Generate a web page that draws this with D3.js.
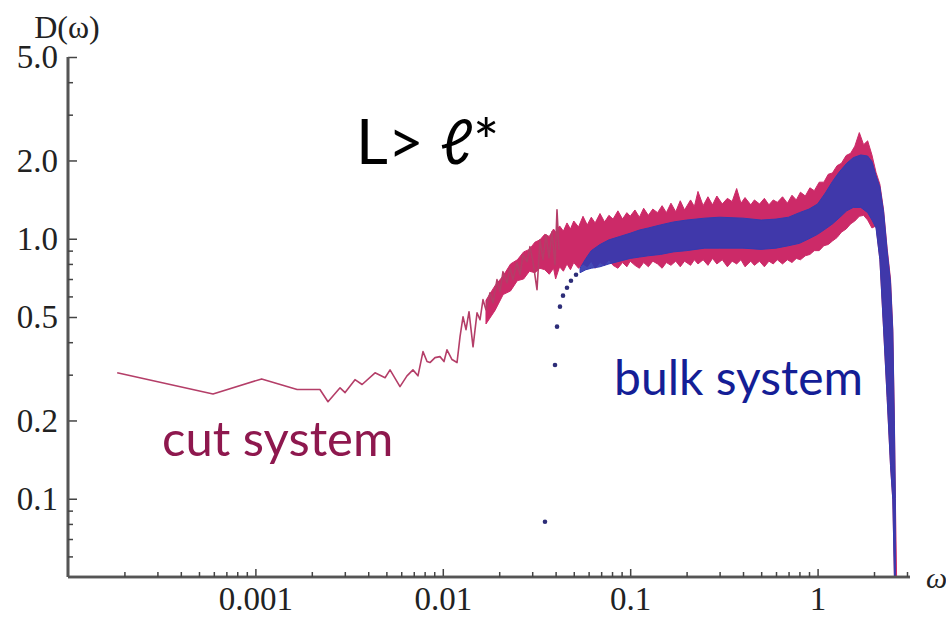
<!DOCTYPE html>
<html>
<head>
<meta charset="utf-8">
<script src="https://cdn.jsdelivr.net/npm/d3@7"></script>
<style>
  html, body { margin: 0; padding: 0; background: #fff; }
  svg { display: block; }
</style>
</head>
<body>
<svg id="chart" width="946" height="621"></svg>
<script>
// Density of states D(ω), log-log: cut system (noisy line + band) vs bulk system.

// Cut system, low-frequency single trace
const cutOmega = [1.83e-4, 5.94e-4, 1.08e-3, 1.67e-3, 2.21e-3, 2.44e-3, 2.83e-3, 3.01e-3, 3.40e-3, 3.71e-3,
  4.35e-3, 4.92e-3, 5.23e-3, 5.91e-3, 6.44e-3, 6.93e-3, 7.37e-3, 7.84e-3, 8.24e-3, 8.54e-3,
  9.09e-3, 9.66e-3, 0.01015, 0.01053, 0.0112, 0.01191, 0.01236, 0.01282, 0.0133, 0.0138,
  0.0145, 0.01523, 0.0158, 0.01639, 0.0170, 0.01786, 0.01853, 0.01946, 0.02019, 0.02095,
  0.0220, 0.02283, 0.02369, 0.02488, 0.02582, 0.02679, 0.02813, 0.02919, 0.03029, 0.03182,
  0.03301, 0.03425, 0.03554, 0.03687, 0.03826, 0.0397, 0.04068, 0.0417];
const cutD = [0.305, 0.253, 0.289, 0.263, 0.263, 0.236, 0.267, 0.256, 0.287, 0.275,
  0.305, 0.292, 0.313, 0.270, 0.297, 0.313, 0.297, 0.368, 0.337, 0.334,
  0.349, 0.352, 0.337, 0.374, 0.343, 0.334, 0.420, 0.501, 0.447, 0.524,
  0.384, 0.519, 0.488, 0.583, 0.533, 0.620, 0.567, 0.696, 0.626, 0.747,
  0.677, 0.774, 0.696, 0.808, 0.727, 0.868, 0.816, 0.932, 0.816, 0.637,
  0.991, 0.830, 1.036, 0.845, 1.064, 0.794, 1.292, 0.907];

// Cut system, fluctuation band (upper / lower envelope)
const bandOmega = [0.017, 0.019, 0.021, 0.023, 0.025, 0.027, 0.029, 0.031, 0.033, 0.035,
  0.037, 0.039, 0.040, 0.042, 0.044, 0.046, 0.048, 0.050, 0.053, 0.056,
  0.059, 0.062, 0.065, 0.069, 0.073, 0.077, 0.081, 0.086, 0.091, 0.096,
  0.100, 0.106, 0.112, 0.118, 0.125, 0.132, 0.140, 0.148, 0.156, 0.165,
  0.175, 0.185, 0.195, 0.21, 0.22, 0.23, 0.245, 0.26, 0.275, 0.29,
  0.31, 0.33, 0.35, 0.37, 0.39, 0.41, 0.44, 0.46, 0.49, 0.52,
  0.55, 0.58, 0.61, 0.65, 0.69, 0.73, 0.77, 0.81, 0.86, 0.91,
  0.96, 1.02, 1.08, 1.14, 1.20, 1.27, 1.34, 1.42, 1.50, 1.58,
  1.67, 1.76, 1.85, 1.95, 2.05, 2.15, 2.25, 2.35, 2.45, 2.52,
  2.57, 2.60, 2.64];
const bandHi = [0.58, 0.66, 0.72, 0.80, 0.83, 0.89, 0.91, 0.97, 0.99, 1.04,
  1.02, 1.09, 1.06, 1.12, 1.07, 1.15, 1.09, 1.17, 1.11, 1.22,
  1.13, 1.21, 1.15, 1.25, 1.16, 1.23, 1.19, 1.28, 1.19, 1.26,
  1.22, 1.29, 1.21, 1.31, 1.23, 1.30, 1.26, 1.34, 1.26, 1.37,
  1.27, 1.40, 1.29, 1.41, 1.33, 1.52, 1.34, 1.45, 1.35, 1.46,
  1.36, 1.43, 1.39, 1.56, 1.37, 1.44, 1.35, 1.41, 1.36, 1.43,
  1.35, 1.41, 1.38, 1.45, 1.37, 1.47, 1.41, 1.51, 1.46, 1.57,
  1.53, 1.65, 1.65, 1.77, 1.79, 1.91, 1.95, 2.09, 2.13, 2.27,
  2.56, 2.30, 2.38, 2.10, 1.80, 1.62, 1.29, 0.92, 0.70, 0.45,
  0.20, 0.10, 0.05];
const bandLo = [0.47, 0.53, 0.61, 0.63, 0.69, 0.70, 0.75, 0.74, 0.77, 0.76,
  0.73, 0.77, 0.70, 0.78, 0.75, 0.80, 0.76, 0.81, 0.77, 0.80,
  0.78, 0.82, 0.77, 0.81, 0.79, 0.83, 0.79, 0.77, 0.81, 0.78,
  0.82, 0.79, 0.77, 0.81, 0.78, 0.82, 0.80, 0.77, 0.81, 0.79,
  0.82, 0.78, 0.82, 0.79, 0.83, 0.80, 0.83, 0.79, 0.84, 0.80,
  0.83, 0.78, 0.82, 0.80, 0.83, 0.78, 0.82, 0.79, 0.82, 0.78,
  0.82, 0.80, 0.83, 0.80, 0.83, 0.81, 0.84, 0.83, 0.86, 0.87,
  0.90, 0.90, 0.94, 0.95, 0.98, 1.01, 1.06, 1.09, 1.14, 1.17,
  1.22, 1.23, 1.18, 1.10, 1.12, 0.83, 0.45, 0.245, 0.134, 0.099,
  0.05, 0.05, 0.05];

// Bulk system, band of the scattered points
const bulkOmega = [0.054, 0.058, 0.062, 0.069, 0.077, 0.088, 0.10, 0.112, 0.125, 0.145,
  0.17, 0.2, 0.25, 0.3, 0.4, 0.5, 0.6, 0.7, 0.8, 0.9,
  1.0, 1.1, 1.2, 1.3, 1.43, 1.55, 1.7, 1.85, 1.95, 2.05,
  2.15, 2.25, 2.35, 2.45, 2.52, 2.57, 2.60];
const bulkHi = [0.77, 0.84, 0.90, 0.95, 0.99, 1.02, 1.05, 1.08, 1.10, 1.13,
  1.16, 1.18, 1.20, 1.21, 1.20, 1.18, 1.19, 1.21, 1.26, 1.30,
  1.36, 1.50, 1.66, 1.80, 1.95, 2.05, 2.10, 2.08, 1.98, 1.75,
  1.58, 1.27, 0.90, 0.68, 0.44, 0.19, 0.10];
const bulkLo = [0.74, 0.76, 0.77, 0.78, 0.80, 0.82, 0.84, 0.85, 0.86, 0.87,
  0.89, 0.90, 0.92, 0.92, 0.92, 0.91, 0.92, 0.94, 0.96, 1.00,
  1.04, 1.09, 1.14, 1.20, 1.28, 1.32, 1.32, 1.26, 1.18, 1.10,
  0.83, 0.45, 0.245, 0.134, 0.099, 0.05, 0.05];

// Bulk system, isolated low-frequency points
const bulkDotOmega = [0.0351, 0.0397, 0.0407, 0.0422, 0.0438, 0.0460, 0.0483, 0.0514];
const bulkDotD = [0.0816, 0.327, 0.459, 0.548, 0.604, 0.648, 0.689, 0.727];

// Axis ticks
const xTickValues = [0.001, 0.01, 0.1, 1];
const xTickLabels = ["0.001", "0.01", "0.1", "1"];
const yTickValues = [0.1, 0.2, 0.5, 1, 2, 5];
const yTickLabels = ["0.1", "0.2", "0.5", "1.0", "2.0", "5.0"];

const W = 946, H = 621;
const mLeft = 68, mRight = 907, mTop = 57, mBottom = 577;

const svg = d3.select("#chart");
svg.append("rect").attr("width", W).attr("height", H).attr("fill", "#fff");

const x = d3.scaleLog().domain([1e-4, 3]).range([mLeft, mRight]);
const y = d3.scaleLog().domain([0.05, 5]).range([mBottom, mTop]);

const zip2 = (a, b) => a.map((v, i) => ({ w: v, d: b[i] }));
const zip3 = (a, hi, lo) => a.map((v, i) => ({ w: v, hi: hi[i], lo: lo[i] }));

svg.append("defs").append("clipPath").attr("id", "plot")
  .append("rect").attr("x", mLeft).attr("y", mTop - 20)
  .attr("width", mRight - mLeft + 10).attr("height", mBottom - mTop + 20);

const plot = svg.append("g").attr("clip-path", "url(#plot)");

const area = d3.area()
  .x(d => x(d.w)).y0(d => y(d.lo)).y1(d => y(d.hi));
const line = d3.line().x(d => x(d.w)).y(d => y(d.d));

const cutColor = "rgb(204,42,104)";
const bulkColor = "rgb(52,58,176)";

// cut system band
plot.append("path")
  .datum(zip3(bandOmega, bandHi, bandLo))
  .attr("d", area)
  .attr("fill", cutColor)
  .attr("stroke", cutColor)
  .attr("stroke-width", 1)
  .attr("stroke-linejoin", "miter");

// cut system trace
plot.append("path")
  .datum(zip2(cutOmega, cutD))
  .attr("d", line)
  .attr("fill", "none")
  .attr("stroke", "rgb(180,62,104)")
  .attr("stroke-width", 1.6)
  .attr("stroke-linejoin", "round");

// bulk system band
plot.append("path")
  .datum(zip3(bulkOmega, bulkHi, bulkLo))
  .attr("d", area)
  .attr("fill", bulkColor)
  .attr("fill-opacity", 0.92)
  .attr("stroke", bulkColor)
  .attr("stroke-width", 1);

// bulk system isolated points
plot.selectAll("circle.bulk")
  .data(zip2(bulkDotOmega, bulkDotD))
  .join("circle")
  .attr("class", "bulk")
  .attr("cx", d => x(d.w))
  .attr("cy", d => y(d.d))
  .attr("r", 2.3)
  .attr("fill", "rgb(45,45,120)");

// axes
const axisColor = "#555";
const tickFont = "'Liberation Serif', 'DejaVu Serif', serif";

const xMinor = [];
[1e-4, 1e-3, 1e-2, 1e-1, 1].forEach(dec => {
  for (let k = 2; k <= 9; k++) { const v = k * dec; if (v <= 3) xMinor.push(v); }
});
const yMinor = [0.06, 0.07, 0.08, 0.09, 0.3, 0.4, 0.6, 0.7, 0.8, 0.9, 3, 4];

const xAxis = svg.append("g")
  .attr("transform", `translate(0,${mBottom})`)
  .call(d3.axisBottom(x).tickValues(xTickValues).tickSize(-8)
    .tickFormat((d, i) => xTickLabels[i]).tickPadding(11));
const xAxisMinor = svg.append("g")
  .attr("transform", `translate(0,${mBottom})`)
  .call(d3.axisBottom(x).tickValues(xMinor).tickSize(-5).tickFormat(""));

const yAxis = svg.append("g")
  .attr("transform", `translate(${mLeft},0)`)
  .call(d3.axisLeft(y).tickValues(yTickValues).tickSize(-9)
    .tickFormat((d, i) => yTickLabels[i]).tickPadding(10));
const yAxisMinor = svg.append("g")
  .attr("transform", `translate(${mLeft},0)`)
  .call(d3.axisLeft(y).tickValues(yMinor).tickSize(-5).tickFormat(""));

[xAxis, xAxisMinor, yAxis, yAxisMinor].forEach(g => {
  g.select(".domain").attr("stroke", axisColor).attr("stroke-width", 2.6);
  g.selectAll(".tick line").attr("stroke", "#444").attr("stroke-width", 1.5);
  g.selectAll(".tick text")
    .attr("fill", "#222")
    .style("font-family", tickFont)
    .style("font-size", "33px");
});
xAxis.selectAll(".tick text").attr("dy", "0.68em");
xAxisMinor.select(".domain").attr("d", `M${mLeft},0H${mRight + 3}`);
xAxis.select(".domain").attr("d", `M${mLeft},0H${mRight + 3}`);
yAxis.select(".domain").attr("d", `M0,${mBottom}V${mTop}`);
yAxisMinor.select(".domain").attr("d", `M0,${mBottom}V${mTop}`);

// axis titles
svg.append("text")
  .attr("x", 67).attr("y", 38)
  .attr("text-anchor", "middle")
  .style("font-family", tickFont).style("font-size", "32px")
  .attr("fill", "#222")
  .text("D(ω)");
svg.append("text")
  .attr("x", 926).attr("y", 588)
  .style("font-family", tickFont).style("font-size", "30px").style("font-style", "italic")
  .attr("fill", "#222")
  .text("ω");

// annotations
const sans = "Lato, 'Open Sans', 'DejaVu Sans', sans-serif";
svg.append("text")
  .attr("x", 356).attr("y", 164)
  .style("font-family", sans).style("font-size", "62px")
  .attr("fill", "#000")
  .text("L> ℓ*");
svg.append("text")
  .attr("x", 162).attr("y", 456)
  .style("font-family", sans).style("font-size", "49px")
  .attr("fill", "rgb(142,24,78)")
  .text("cut system");
svg.append("text")
  .attr("x", 614).attr("y", 395)
  .style("font-family", sans).style("font-size", "48px")
  .attr("fill", "rgb(20,30,150)")
  .text("bulk system");
</script>
</body>
</html>
